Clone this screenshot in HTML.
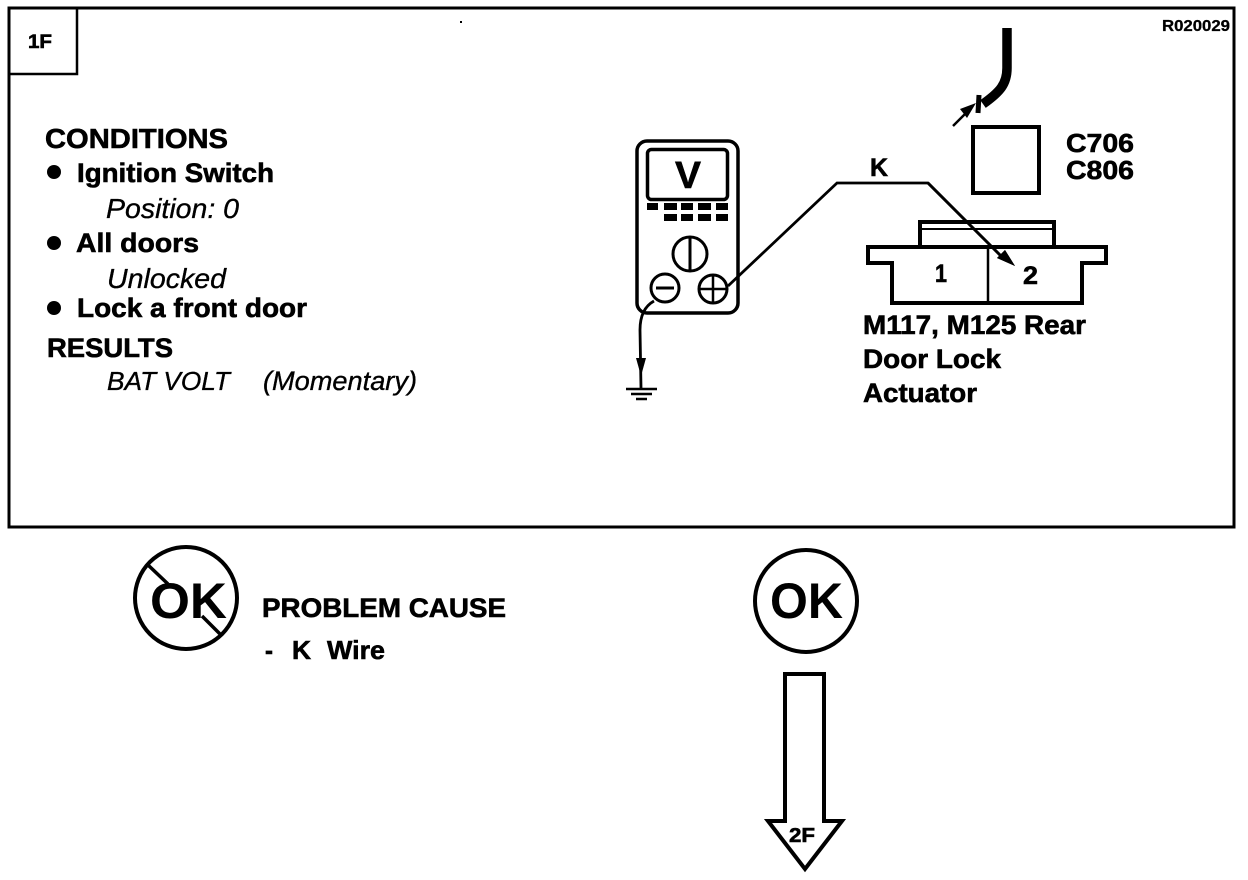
<!DOCTYPE html>
<html>
<head>
<meta charset="utf-8">
<style>
html,body{margin:0;padding:0;background:#fff;width:1248px;height:880px;overflow:hidden}
svg{display:block}
text{font-family:"Liberation Sans",Arial,sans-serif;fill:#000}
.b{font-weight:bold;stroke:#000;stroke-width:.6}
.i{font-style:italic;stroke:#000;stroke-width:.35}
.l{fill:none;stroke:#000;stroke-linejoin:miter}
</style>
</head>
<body>
<svg width="1248" height="880" viewBox="0 0 1248 880" xmlns="http://www.w3.org/2000/svg">
<rect width="1248" height="880" fill="#fff"/>
<!-- frame -->
<rect class="l" x="9" y="8" width="1225" height="519" stroke-width="3"/>
<path class="l" d="M10 74H77V8" stroke-width="2.5"/>
<rect x="460" y="21" width="2" height="2" fill="#000"/>
<text class="b" x="28" y="48" font-size="19" textLength="24" lengthAdjust="spacingAndGlyphs">1F</text>
<text class="b" x="1162" y="31" font-size="16" textLength="68" lengthAdjust="spacingAndGlyphs" style="stroke-width:.3">R020029</text>

<!-- conditions -->
<text class="b" x="45" y="148" font-size="28" textLength="183" lengthAdjust="spacingAndGlyphs">CONDITIONS</text>
<circle cx="54" cy="172" r="7"/>
<text class="b" x="77" y="182" font-size="27" textLength="197" lengthAdjust="spacingAndGlyphs">Ignition Switch</text>
<text class="i" x="106" y="218" font-size="28" textLength="133" lengthAdjust="spacingAndGlyphs">Position: 0</text>
<circle cx="54" cy="243" r="7"/>
<text class="b" x="76" y="252" font-size="27" textLength="123" lengthAdjust="spacingAndGlyphs">All doors</text>
<text class="i" x="107" y="288" font-size="28" textLength="119" lengthAdjust="spacingAndGlyphs">Unlocked</text>
<circle cx="54" cy="308" r="7"/>
<text class="b" x="77" y="317" font-size="27" textLength="230" lengthAdjust="spacingAndGlyphs">Lock a front door</text>
<text class="b" x="47" y="357" font-size="27" textLength="126" lengthAdjust="spacingAndGlyphs">RESULTS</text>
<text class="i" x="107" y="390" font-size="26" textLength="123" lengthAdjust="spacingAndGlyphs">BAT VOLT</text>
<text class="i" x="263" y="390" font-size="27" textLength="154" lengthAdjust="spacingAndGlyphs">(Momentary)</text>

<!-- meter -->
<rect class="l" x="637" y="141" width="101" height="172" rx="10" stroke-width="3.5"/>
<rect class="l" x="647.5" y="149.5" width="80" height="50" rx="4" stroke-width="3.5"/>
<text class="b" x="675" y="188" font-size="38" textLength="26" lengthAdjust="spacingAndGlyphs">V</text>
<g>
<rect x="647" y="203" width="11" height="7"/><rect x="664" y="203" width="13" height="7"/><rect x="681" y="203" width="12" height="7"/><rect x="698" y="203" width="13" height="7"/><rect x="716" y="203" width="12" height="7"/>
<rect x="664" y="214" width="13" height="7"/><rect x="681" y="214" width="12" height="7"/><rect x="698" y="214" width="13" height="7"/><rect x="716" y="214" width="12" height="7"/>
</g>
<circle class="l" cx="690" cy="254" r="17" stroke-width="3"/>
<path class="l" d="M690 237V271" stroke-width="3"/>
<circle class="l" cx="665" cy="288" r="14" style="fill:#fff" stroke-width="3"/>
<path class="l" d="M656 288H674" stroke-width="3"/>
<circle class="l" cx="713" cy="289" r="14" style="fill:#fff" stroke-width="3"/>
<path class="l" d="M699 289H727M713 275V303" stroke-width="2.5"/>

<!-- K wire -->
<path class="l" d="M728 286L837 183H928L1003 258" stroke-width="2.8"/>
<polygon points="1015,266 997,258 1005,250"/>
<text class="b" x="870" y="176" font-size="25" textLength="18" lengthAdjust="spacingAndGlyphs">K</text>

<!-- ground -->
<path class="l" d="M654 301C645 306 640 315 640 330L641 388" stroke-width="2.8"/>
<polygon points="636,358 646,358 641,376"/>
<path class="l" d="M626 389H657M631 394H652M636 399H647" stroke-width="2.5"/>

<!-- cable and connector -->
<path class="l" d="M1007 28V68C1007 84 1000 92 983 104" stroke-width="9.5"/>
<path class="l" d="M979 95L978 113" stroke-width="5"/>
<path class="l" d="M953 126L968 111" stroke-width="2.5"/>
<polygon points="976,103 960,109 967,118"/>
<rect class="l" x="973" y="127" width="66" height="66" stroke-width="4"/>
<text class="b" x="1066" y="152" font-size="26" textLength="68" lengthAdjust="spacingAndGlyphs">C706</text>
<text class="b" x="1066" y="179" font-size="26" textLength="68" lengthAdjust="spacingAndGlyphs">C806</text>

<path class="l" d="M920 246V222H1054V246" stroke-width="4"/>
<path class="l" d="M920 229H1054" stroke-width="2"/>
<path class="l" d="M868 247H1106V263H1082V303H892V263H868Z" stroke-width="4"/>
<path class="l" d="M988 247V303" stroke-width="2.5"/>
<path class="l" d="M928 183L1003 258" stroke-width="2.8"/>
<polygon points="1015,266 997,258 1005,250"/>
<text class="b" x="935" y="282" font-size="25" textLength="12" lengthAdjust="spacingAndGlyphs">1</text>
<text class="b" x="1023" y="284" font-size="25" textLength="15" lengthAdjust="spacingAndGlyphs">2</text>
<text class="b" x="863" y="334" font-size="27" textLength="223" lengthAdjust="spacingAndGlyphs">M117, M125 Rear</text>
<text class="b" x="863" y="368" font-size="27" textLength="138" lengthAdjust="spacingAndGlyphs">Door Lock</text>
<text class="b" x="863" y="402" font-size="27" textLength="114" lengthAdjust="spacingAndGlyphs">Actuator</text>

<!-- not OK -->
<circle class="l" cx="186" cy="598" r="51" stroke-width="4"/>
<path class="l" d="M148 565L168 584M202 616L220 634" stroke-width="3.5"/>
<text x="150" y="618" font-size="50" font-weight="bold" textLength="77" lengthAdjust="spacingAndGlyphs">OK</text>
<text class="b" x="262" y="617" font-size="27" textLength="244" lengthAdjust="spacingAndGlyphs">PROBLEM CAUSE</text>
<text class="b" x="265" y="659" font-size="26" textLength="8" lengthAdjust="spacingAndGlyphs">-</text>
<text class="b" x="292" y="659" font-size="26" textLength="19" lengthAdjust="spacingAndGlyphs">K</text>
<text class="b" x="327" y="659" font-size="26" textLength="58" lengthAdjust="spacingAndGlyphs">Wire</text>

<!-- OK -->
<circle class="l" cx="806" cy="601" r="51" stroke-width="4"/>
<text x="770" y="618" font-size="50" font-weight="bold" textLength="73" lengthAdjust="spacingAndGlyphs">OK</text>

<!-- down arrow -->
<path class="l" d="M785 821V674H824V821H842L805 869L768 821Z" stroke-width="4"/>
<text class="b" x="789" y="842" font-size="20" textLength="26" lengthAdjust="spacingAndGlyphs">2F</text>
</svg>
</body>
</html>
